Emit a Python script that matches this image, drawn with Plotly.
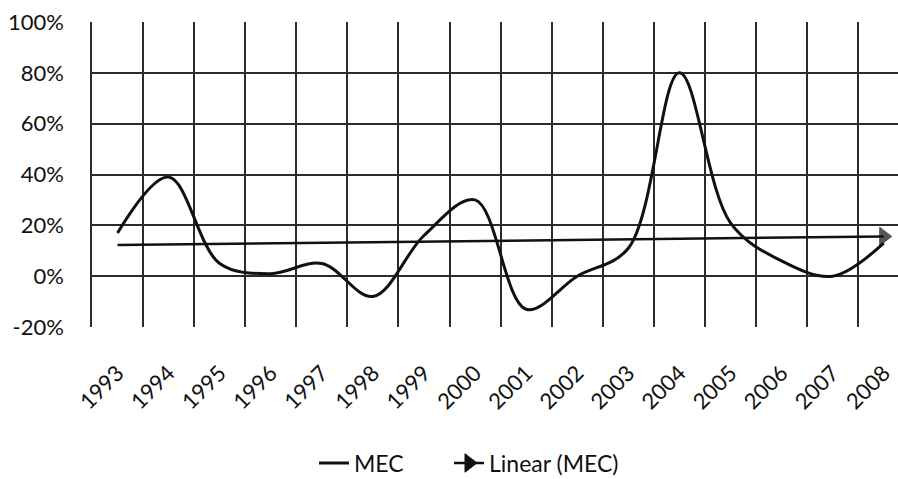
import numpy as np
import plotly.graph_objects as go

years = [str(y) for y in range(1993, 2009)]
mec = [17, 39, 5, 1, 5, -8, 16, 30, -13, 0, 11, 80, 21, 6, 0, 13]
y_ticks = [-20, 0, 20, 40, 60, 80, 100]
y_labels = [f"{v}%" for v in y_ticks]

# Excel-style linear trendline (least squares fit)
idx = np.arange(len(mec))
slope, intercept = np.polyfit(idx, mec, 1)
trend = list(slope * idx + intercept)

FONT = "Lato"
INK = "#111111"
GRID = "#2b2b2b"

fig = go.Figure()
fig.add_trace(go.Scatter(
    x=years, y=mec, name="MEC", mode="lines", legend="legend",
    line=dict(color=INK, width=3, shape="spline", smoothing=1.0),
))
# trendline with arrow head at its last point
fig.add_trace(go.Scatter(
    x=years, y=trend, name="Linear (MEC)", mode="lines+markers",
    showlegend=False,
    line=dict(color=INK, width=2.5),
    marker=dict(symbol="triangle-right", color=INK,
                size=[0] * (len(years) - 1) + [16],
                line=dict(color=INK, width=1)),
))
# legend entry for the trendline (no data drawn)
fig.add_trace(go.Scatter(
    x=[None], y=[None], name="Linear (MEC)", mode="lines+markers",
    legend="legend2",
    line=dict(color=INK, width=2.5),
    marker=dict(symbol="triangle-right", color=INK, size=16,
                line=dict(color=INK, width=1)),
))

legend_common = dict(orientation="h", xref="container", yref="container",
                     xanchor="left", yanchor="middle", y=1 - 463 / 479,
                     font=dict(family=FONT, size=23, color=INK),
                     bgcolor="rgba(0,0,0,0)")

fig.update_layout(
    width=898, height=479,
    margin=dict(l=92, r=0, t=22, b=152),
    paper_bgcolor="white", plot_bgcolor="white",
    font=dict(family=FONT, size=22, color=INK),
    showlegend=True,
    legend=dict(legend_common, x=314 / 898),
    legend2=dict(legend_common, x=449 / 898),
)
fig.update_xaxes(
    type="category", range=[-0.5, 15.28],
    tickson="boundaries", ticks="", tickangle=-45,
    showgrid=True, gridcolor=GRID, gridwidth=1.5,
    showline=False, ticklabelstandoff=28,
    tickfont=dict(family=FONT, size=22, color=INK),
)
fig.update_yaxes(
    range=[-20, 100], tickvals=y_ticks, ticktext=y_labels,
    showgrid=True, gridcolor=GRID, gridwidth=1.5,
    zeroline=False, showline=True, linecolor=GRID, linewidth=1.5,
    ticks="", ticklabelstandoff=22,
    tickfont=dict(family=FONT, size=22, color=INK),
)

fig.write_html("out.html")
